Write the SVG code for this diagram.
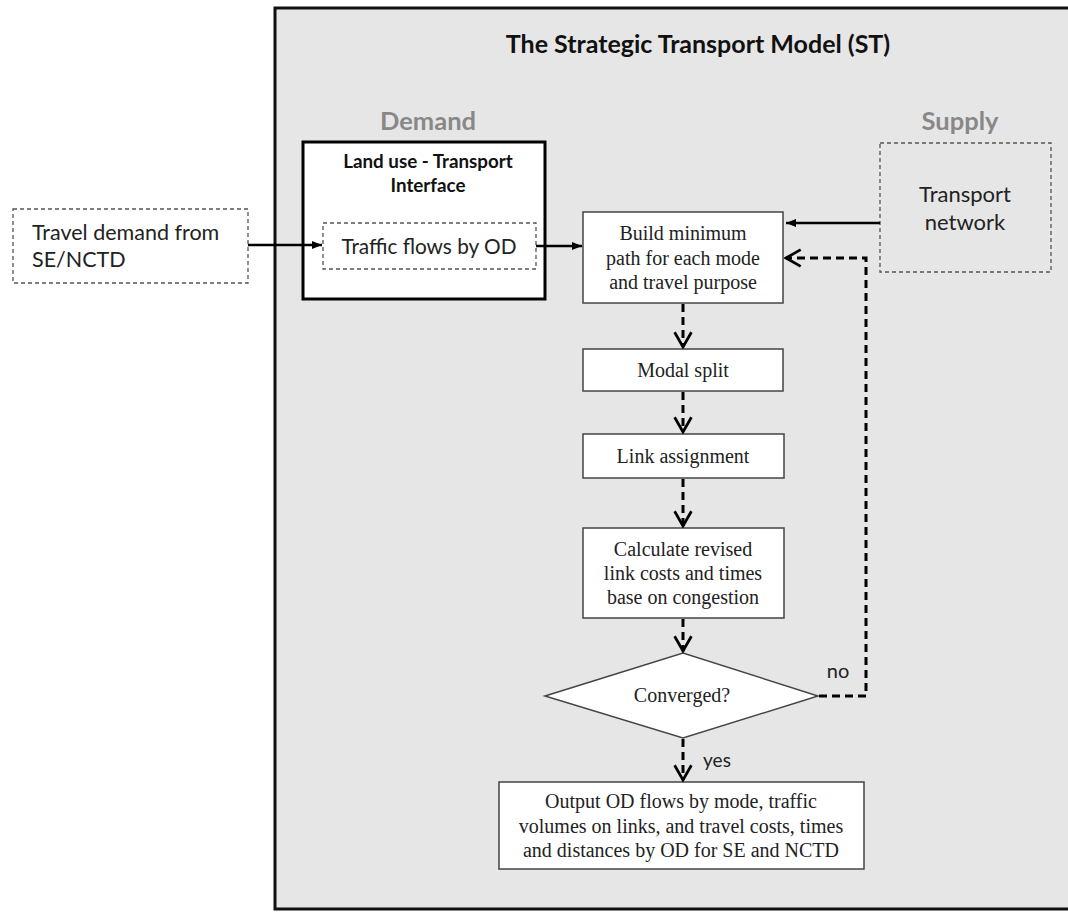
<svg xmlns="http://www.w3.org/2000/svg" width="1068" height="912" viewBox="0 0 1068 912">
<defs>
<marker id="fill" viewBox="0 0 10 10" refX="10" refY="5" markerWidth="4" markerHeight="4" markerUnits="strokeWidth" orient="auto">
<path d="M0,1 L10,5 L0,9 Z" fill="#000"/>
</marker>
<marker id="open" viewBox="0 0 20 20" refX="18" refY="10" markerWidth="7" markerHeight="7" markerUnits="strokeWidth" orient="auto">
<path d="M4,2 L18,10 L4,18" fill="none" stroke="#000" stroke-width="2.6"/>
</marker>
<style>
.sans{font-family:Lato,"Liberation Sans",sans-serif}
.serif{font-family:"Liberation Serif","Times New Roman",serif;font-size:20px;fill:#222}
.box{fill:#fff;stroke:#444;stroke-width:1.5}
.dbox{fill:none;stroke:#555;stroke-width:1.3;stroke-dasharray:4 3}
.solid{stroke:#000;stroke-width:2.5;fill:none;marker-end:url(#fill)}
.dash{stroke:#000;stroke-width:3;fill:none;stroke-dasharray:8 5;marker-end:url(#open)}
.head{font-weight:bold;fill:#888;font-size:25.5px}
</style>
</defs>
<rect width="1068" height="912" fill="#fff"/>
<g id="frame">
<rect x="275" y="8" width="820" height="901" fill="#e6e6e6" stroke="#111" stroke-width="3"/>
<text class="sans" x="698" y="53" text-anchor="middle" font-size="25" font-weight="bold" fill="#111">The Strategic Transport Model (ST)</text>
<text class="sans head" x="428" y="130" text-anchor="middle">Demand</text>
<text class="sans head" x="960" y="130" text-anchor="middle">Supply</text>
</g>
<g id="travel-demand">
<rect x="13" y="209" width="235" height="74" fill="#fff" class="dbox"/>
<text class="sans" font-size="21.5" fill="#222"><tspan x="32" y="240">Travel demand from</tspan><tspan x="32" y="267">SE/NCTD</tspan></text>
</g>
<g id="land-use">
<rect x="303" y="142" width="242" height="157" fill="#fff" stroke="#000" stroke-width="3"/>
<text class="sans" font-size="18.8" font-weight="bold" fill="#111" text-anchor="middle"><tspan x="428" y="168">Land use - Transport</tspan><tspan x="428" y="192">Interface</tspan></text>
</g>
<g id="traffic-flows">
<rect x="323" y="223" width="213" height="46" class="dbox"/>
<text class="sans" x="429" y="254" text-anchor="middle" font-size="20.8" fill="#222">Traffic flows by OD</text>
</g>
<g id="transport-network">
<rect x="880" y="143" width="171" height="129" class="dbox"/>
<text class="sans" font-size="22" fill="#222" text-anchor="middle"><tspan x="965" y="202">Transport</tspan><tspan x="965" y="230">network</tspan></text>
</g>
<g id="build">
<rect x="583" y="212" width="200" height="91" class="box"/>
<text class="serif" text-anchor="middle"><tspan x="683" y="240">Build minimum</tspan><tspan x="683" y="265">path for each mode</tspan><tspan x="683" y="289">and travel purpose</tspan></text>
</g>
<g id="modal-split">
<rect x="583" y="349" width="200" height="42" class="box"/>
<text class="serif" x="683" y="377" text-anchor="middle">Modal split</text>
</g>
<g id="link-assignment">
<rect x="583" y="434" width="201" height="44" class="box"/>
<text class="serif" x="683" y="463" text-anchor="middle">Link assignment</text>
</g>
<g id="calculate">
<rect x="583" y="528" width="201" height="90" class="box"/>
<text class="serif" text-anchor="middle"><tspan x="683" y="556">Calculate revised</tspan><tspan x="683" y="580">link costs and times</tspan><tspan x="683" y="604">base on congestion</tspan></text>
</g>
<g id="converged">
<polygon points="545,696 683,653 818,696 683,738" fill="#fff" stroke="#444" stroke-width="1.5"/>
<text class="serif" x="682" y="702" text-anchor="middle">Converged?</text>
</g>
<g id="output">
<rect x="499" y="782" width="365" height="87" class="box"/>
<text class="serif" text-anchor="middle"><tspan x="681" y="808">Output OD flows by mode, traffic</tspan><tspan x="681" y="833">volumes on links, and travel costs, times</tspan><tspan x="681" y="857">and distances by OD for SE and NCTD</tspan></text>
</g>
<g id="connectors">
<line x1="248" y1="245" x2="322" y2="245" class="solid"/>
<line x1="536" y1="246" x2="582" y2="246" class="solid"/>
<line x1="880" y1="223" x2="786" y2="223" class="solid"/>
<line x1="683" y1="304" x2="683" y2="347" class="dash"/>
<line x1="683" y1="392" x2="683" y2="432" class="dash"/>
<line x1="683" y1="479" x2="683" y2="526" class="dash"/>
<line x1="683" y1="619" x2="683" y2="651" class="dash"/>
<line x1="683" y1="739" x2="683" y2="780" class="dash"/>
<polyline points="819,696 866,696 866,258 786,258" class="dash"/>
<text class="sans" x="838" y="678" text-anchor="middle" font-size="20" fill="#222">no</text>
<text class="sans" x="717" y="767" text-anchor="middle" font-size="19" fill="#222">yes</text>
</g>
</svg>
